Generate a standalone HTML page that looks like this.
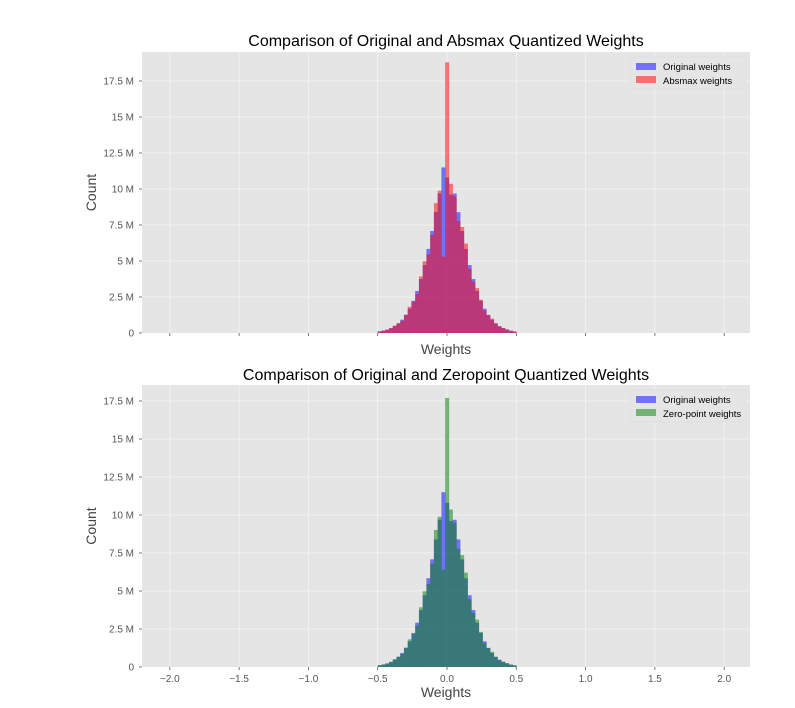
<!DOCTYPE html>
<html><head><meta charset="utf-8">
<style>
html,body{margin:0;padding:0;background:#fff;}
svg{display:block;font-family:"Liberation Sans","DejaVu Sans",sans-serif;}
</style></head>
<body>
<svg id="s" width="795" height="708" viewBox="0 0 795 708" xmlns="http://www.w3.org/2000/svg"></svg>
<script>
const S=document.getElementById('s');
const NS='http://www.w3.org/2000/svg';
function el(t,a,txt){const e=document.createElementNS(NS,t);for(const k in a)e.setAttribute(k,a[k]);if(txt!==undefined)e.textContent=txt;S.appendChild(e);return e;}
const L=142,R=750;
const xpx=v=>447+v*138.6;
function plot(top,bot,title,qName,qColor,spike,dip,showXLabels,titleY){
  const per25=(bot===333)?36:38;
  const yv=m=>bot-m/2.5*per25;
  el('rect',{x:L,y:top,width:R-L,height:bot-top,fill:'#e5e5e5'});
  for(let i=1;i<=7;i++){const y=yv(i*2.5);el('line',{x1:L,x2:R,y1:y,y2:y,stroke:'#f4f4f4','stroke-width':0.8});}
  for(let v=-2;v<=2.001;v+=0.5){const x=xpx(v);el('line',{x1:x,x2:x,y1:top,y2:bot,stroke:'#f4f4f4','stroke-width':0.8});
    el('line',{x1:x,x2:x,y1:bot,y2:bot+3,stroke:'#555','stroke-width':0.8});
    if(showXLabels)el('text',{x:x,y:bot+15,'font-size':10,fill:'#555','text-anchor':'middle'},(v<0?'\u2212':'')+Math.abs(v).toFixed(1));}
  const labs=['0','2.5 M','5 M','7.5 M','10 M','12.5 M','15 M','17.5 M'];
  for(let i=0;i<8;i++){const y=yv(i*2.5);el('text',{x:L-8,y:y+3.5,'font-size':10,fill:'#555','text-anchor':'end'},labs[i]);
    el('line',{x1:L-3,x2:L,y1:y,y2:y,stroke:'#555','stroke-width':0.8});}
  const w=0.027;
  const f=x=>11.5*Math.exp(-Math.pow(Math.abs(x)/0.175,1.5));
  const orig=[],q=[];
  for(let k=-18;k<=18;k++){const c=k*w;let h=f(c);if(k===0)h=10.8;if(k===-1)h=11.5;if(k===1)h=9.6;orig.push([c,h]);
    let hq=h;if(k===0)hq=spike;else if(k===-1)hq=dip;else{hq=h*(1+0.08*Math.sin(k*1.7));}q.push([c,hq]);}
  const g1=el('g',{opacity:0.5});
  for(const [c,h] of orig){const x0=xpx(c-w/2),x1=xpx(c+w/2);const r=document.createElementNS(NS,'rect');
    r.setAttribute('x',x0);r.setAttribute('width',x1-x0+0.3);r.setAttribute('y',yv(h));r.setAttribute('height',bot-yv(h));r.setAttribute('fill','#0000ff');g1.appendChild(r);}
  const g2=el('g',{opacity:0.5});
  for(const [c,h] of q){const x0=xpx(c-w/2),x1=xpx(c+w/2);const r=document.createElementNS(NS,'rect');
    r.setAttribute('x',x0);r.setAttribute('width',x1-x0+0.3);r.setAttribute('y',yv(h));r.setAttribute('height',bot-yv(h));r.setAttribute('fill',qColor);g2.appendChild(r);}
  el('text',{x:446,y:titleY,'font-size':16,fill:'#000','text-anchor':'middle'},title);
  el('text',{x:446,y:showXLabels?697:354,'font-size':14,fill:'#444','text-anchor':'middle'},'Weights');
  const cy=(top+bot)/2;
  el('text',{x:96,y:cy,'font-size':14,fill:'#444','text-anchor':'middle',transform:`rotate(-90 96 ${cy})`},'Count');
  const ly=top+5;
  el('rect',{x:630,y:ly,width:116,height:32,fill:'#e5e5e5',stroke:'#e0e0e0'});
  el('rect',{x:636,y:ly+6,width:20,height:7,fill:'#0000ff',opacity:0.5});
  el('text',{x:663,y:ly+13,'font-size':9.5,fill:'#000'},'Original weights');
  el('rect',{x:636,y:ly+19,width:20,height:7,fill:qColor,opacity:0.5});
  el('text',{x:663,y:ly+27,'font-size':9.5,fill:'#000'},qName);
}
plot(52,333,'Comparison of Original and Absmax Quantized Weights','Absmax weights','#ff0000',18.8,5.3,false,46);
plot(385,667,'Comparison of Original and Zeropoint Quantized Weights','Zero-point weights','#008000',17.7,6.4,true,380);
</script>
</body></html>
